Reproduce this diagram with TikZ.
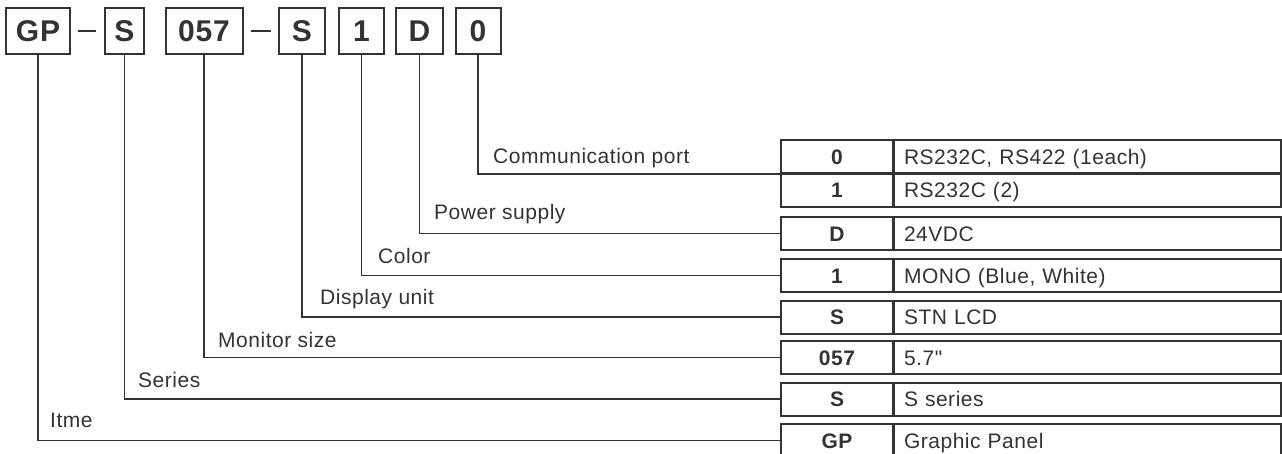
\documentclass[tikz,border=0pt]{standalone}
\usepackage{fontspec}
\setmainfont{Liberation Sans}[LetterSpace=2.5,Ligatures=TeXOff]
\definecolor{ink}{HTML}{333333}
\begin{document}
\begin{tikzpicture}[x=1pt,y=-1pt,
  topbox/.style={draw=ink,line width=2pt,minimum height=46pt,inner sep=0pt,text=ink,
     font=\fontsize{30}{30}\selectfont\bfseries},
  lbl/.style={anchor=base west,inner sep=0pt,text=ink,font=\fontsize{21}{25}\selectfont},
  conn/.style={draw=ink,line width=1.5pt},
  dashline/.style={draw=ink,line width=1.5pt},
  codecell/.style={draw=ink,line width=2pt,minimum width=112pt,minimum height=33pt,inner sep=0pt,
     text height=15pt,text depth=0pt,text=ink,font=\fontsize{21}{25}\selectfont\bfseries},
  desccell/.style={draw=ink,line width=2pt,anchor=west,minimum height=33pt,inner xsep=10pt,inner ysep=0pt,
     text width=367pt,align=left,text height=15pt,text depth=0pt,text=ink,font=\fontsize{21}{25}\selectfont}
]
\useasboundingbox (0,0) rectangle (1282,453);
% top code boxes
\node[topbox,minimum width=64pt] (bGP) at (38,31) {GP};
\node[topbox,minimum width=39pt] (bS1) at (124.5,31) {S};
\node[topbox,minimum width=77pt] (b057) at (204,31) {057};
\node[topbox,minimum width=46pt] (bS2) at (302,31) {S};
\node[topbox,minimum width=45pt] (b1) at (361.5,31) {1};
\node[topbox,minimum width=47pt] (bD) at (419.5,31) {D};
\node[topbox,minimum width=45pt] (b0) at (478,31) {0};
\draw[dashline] ([xshift=7pt]bGP.east) -- ([xshift=-8pt]bS1.west);
\draw[dashline] ([xshift=7pt]b057.east) -- ([xshift=-7pt]bS2.west);
% table
\node[codecell] (c0) at (837,156.6) {0};
\node[desccell] (d0) at (893,156.6) {RS232C, RS422 (1each)};
\node[codecell] (c1) at (837,190.2) {1};
\node[desccell] (d1) at (893,190.2) {RS232C (2)};
\node[codecell] (cD) at (837,233.5) {D};
\node[desccell] (dD) at (893,233.5) {24VDC};
\node[codecell] (cC) at (837,275.5) {1};
\node[desccell] (dC) at (893,275.5) {MONO (Blue, White)};
\node[codecell] (cS2) at (837,317) {S};
\node[desccell] (dS2) at (893,317) {STN LCD};
\node[codecell] (c057) at (837,357.5) {057};
\node[desccell] (d057) at (893,357.5) {5.7"};
\node[codecell] (cS1) at (837,399) {S};
\node[desccell] (dS1) at (893,399) {S series};
\node[codecell] (cGP) at (837,440.5) {GP};
\node[desccell] (dGP) at (893,440.5) {Graphic Panel};
% labels
\node[lbl] (l0) at (493,163) {Communication port};
\node[lbl] (lD) at (434,219) {Power supply};
\node[lbl] (lC) at (378,263) {Color};
\node[lbl] (lS2) at (320,304) {Display unit};
\node[lbl] (l057) at (218,347) {Monitor size};
\node[lbl] (lS1) at (138,387) {Series};
\node[lbl] (lGP) at (50,427) {Itme};
% connectors
\draw[conn] (b0.south) |- (c0.south west);
\draw[conn] (bD.south) |- (cD.west);
\draw[conn] (b1.south) |- (cC.west);
\draw[conn] (bS2.south) |- (cS2.west);
\draw[conn] (b057.south) |- (c057.west);
\draw[conn] (bS1.south) |- (cS1.west);
\draw[conn] (bGP.south) |- (cGP.west);
\end{tikzpicture}
\end{document}
